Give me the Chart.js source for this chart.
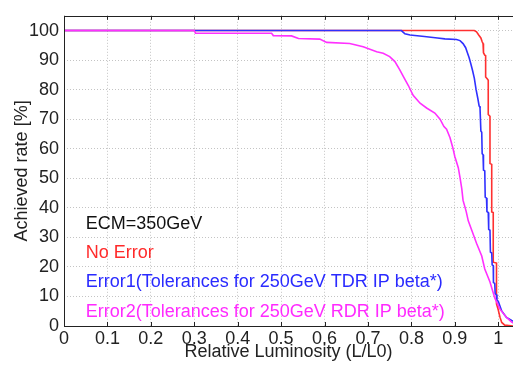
<!DOCTYPE html>
<html>
<head>
<meta charset="utf-8">
<script src="https://cdn.jsdelivr.net/npm/chart.js@4.4.1/dist/chart.umd.min.js"></script>
<style>
  html, body { margin: 0; padding: 0; background: #fff; }
</style>
</head>
<body>
<canvas id="c" width="513" height="366"></canvas>
<script>
// Relative luminosity (L/L0) vs achieved rate [%]
const noErrorL = [0, 0.945, 0.95, 0.955, 0.96, 0.963, 0.965, 0.966, 0.969, 0.971, 0.971, 0.975, 0.977, 0.977, 0.981, 0.981, 0.985, 0.985, 0.9885, 0.9885, 0.996, 0.996, 1.0, 1.004, 1.008, 1.015, 1.035]
const noErrorRate = [100, 100, 99.6, 98.5, 97.5, 96.2, 95.6, 92.5, 91.7, 91.5, 84.3, 83.6, 83.2, 71.6, 71, 55, 54.7, 38.6, 38.4, 21.6, 21.3, 7.5, 5.5, 3, 1.2, 0.3, 0]

const error1L = [0, 0.777, 0.785, 0.797, 0.83, 0.86, 0.877, 0.904, 0.912, 0.919, 0.925, 0.929, 0.933, 0.937, 0.941, 0.945, 0.949, 0.953, 0.956, 0.958, 0.96, 0.962, 0.963, 0.965, 0.966, 0.969, 0.97, 0.973, 0.974, 0.977, 0.978, 0.981, 0.982, 0.985, 0.986, 0.9885, 0.989, 0.992, 0.993, 0.996, 0.997, 1.0, 1.008, 1.019, 1.031, 1.035]
const error1Rate = [100, 100, 98.9, 98.5, 98, 97.5, 97.2, 97, 96.6, 95.6, 94.2, 92.5, 90.8, 88.7, 86.4, 83.8, 80, 77, 74.5, 74, 66, 65.6, 58.3, 58, 52.8, 52.5, 43.6, 43.3, 38.7, 38.4, 32.7, 32.4, 25, 24.7, 20.7, 20.4, 14.7, 14.4, 10.9, 10.6, 8.7, 8.4, 5.1, 2.9, 1.9, 1.6]

const error2L = [0, 0.3, 0.303, 0.478, 0.482, 0.524, 0.54, 0.589, 0.605, 0.658, 0.689, 0.72, 0.735, 0.75, 0.762, 0.773, 0.781, 0.793, 0.804, 0.82, 0.835, 0.854, 0.866, 0.875, 0.881, 0.889, 0.896, 0.9, 0.908, 0.912, 0.916, 0.919, 0.926, 0.931, 0.939, 0.95, 0.962, 0.969, 0.981, 0.992, 1.004, 1.019, 1.031, 1.035]
const error2Rate = [100, 100, 99.1, 99.1, 98.3, 98.2, 97.3, 97.1, 96, 95.6, 94.5, 92.8, 92.3, 91.2, 89.5, 86.8, 84.6, 81.4, 78.1, 75.4, 73.8, 72.1, 70, 67.5, 66.6, 63.7, 60, 57.4, 53.6, 50.2, 46.5, 42.5, 38.9, 35.6, 32.4, 28, 23.7, 19.3, 14.9, 9.5, 5.7, 2.9, 1.3, 1]

// text block inside the plot (x in L/L0, y in %)
const noteTexts = ["ECM=350GeV", "No Error", "Error1(Tolerances for 250GeV TDR IP beta*)", "Error2(Tolerances for 250GeV RDR IP beta*)"]
const noteColors = ["#111111", "#ff2a2a", "#2a2aff", "#ff2aff"]
const noteX = 0.05
const noteY = [34.5, 24.7, 14.9, 4.8]

const FONT = "'Liberation Sans', Arial, Helvetica, sans-serif"

const toPoints = (xs, ys) => xs.map((x, i) => ({ x, y: ys[i] }))

const overlay = {
  id: "overlay",
  afterDatasetsDraw(chart) {
    const { ctx, chartArea: a, scales } = chart
    ctx.save()
    ctx.strokeStyle = "#222"
    ctx.lineWidth = 1
    ctx.strokeRect(Math.round(a.left) + 0.5, Math.round(a.top) + 0.5, a.right - a.left, Math.round(a.bottom - a.top))
    // short inward ticks on top and bottom edges
    ctx.beginPath()
    scales.x.ticks.forEach((t) => {
      const px = Math.round(scales.x.getPixelForValue(t.value)) + 0.5
      ctx.moveTo(px, a.top)
      ctx.lineTo(px, a.top + 4)
      ctx.moveTo(px, a.bottom)
      ctx.lineTo(px, a.bottom - 4)
    })
    ctx.stroke()

    ctx.font = "18px " + FONT
    ctx.textBaseline = "middle"
    ctx.textAlign = "left"
    noteTexts.forEach((t, i) => {
      ctx.fillStyle = noteColors[i]
      ctx.fillText(t, scales.x.getPixelForValue(noteX), scales.y.getPixelForValue(noteY[i]))
    })
    ctx.restore()
  },
}

const line = (label, xs, ys, color, order) => ({
  label,
  data: toPoints(xs, ys),
  borderColor: color,
  borderWidth: 1.6,
  pointRadius: 0,
  tension: 0,
  fill: false,
  order,
})

new Chart(document.getElementById("c"), {
  type: "line",
  data: {
    datasets: [
      line("No Error", noErrorL, noErrorRate, "#ff3030", 3),
      line("Error1", error1L, error1Rate, "#3030ff", 2),
      line("Error2", error2L, error2Rate, "#ff30ff", 1),
    ],
  },
  options: {
    responsive: false,
    animation: false,
    layout: { padding: 0 },
    plugins: { legend: { display: false }, tooltip: { enabled: false } },
    scales: {
      x: {
        type: "linear",
        min: 0,
        max: 1.034,
        afterFit: (s) => { s.height = 40 },
        grid: { color: "#c4c4c4", drawTicks: false, lineWidth: 1 },
        border: { display: false, dash: [1, 2] },
        ticks: {
          stepSize: 0.1,
          includeBounds: false,
          padding: 2,
          color: "#222",
          font: { family: FONT, size: 18 },
          maxRotation: 0,
          autoSkip: false,
          callback: (v) => String(Number(v.toFixed(2))),
        },
        title: {
          display: true,
          text: "Relative Luminosity (L/L0)",
          color: "#222",
          font: { family: FONT, size: 18 },
          padding: { top: 0, bottom: 3 },
        },
      },
      y: {
        min: 0,
        max: 105,
        afterFit: (s) => { s.width = 64 },
        grid: { color: "#c4c4c4", drawTicks: false, lineWidth: 1 },
        border: { display: false, dash: [1, 2] },
        ticks: {
          stepSize: 10,
          includeBounds: false,
          padding: 5,
          color: "#222",
          font: { family: FONT, size: 18 },
        },
        title: {
          display: true,
          text: "Achieved rate [%]",
          color: "#222",
          font: { family: FONT, size: 18 },
          padding: { top: 11, bottom: 0 },
        },
      },
    },
  },
  plugins: [overlay],
})
</script>
</body>
</html>
